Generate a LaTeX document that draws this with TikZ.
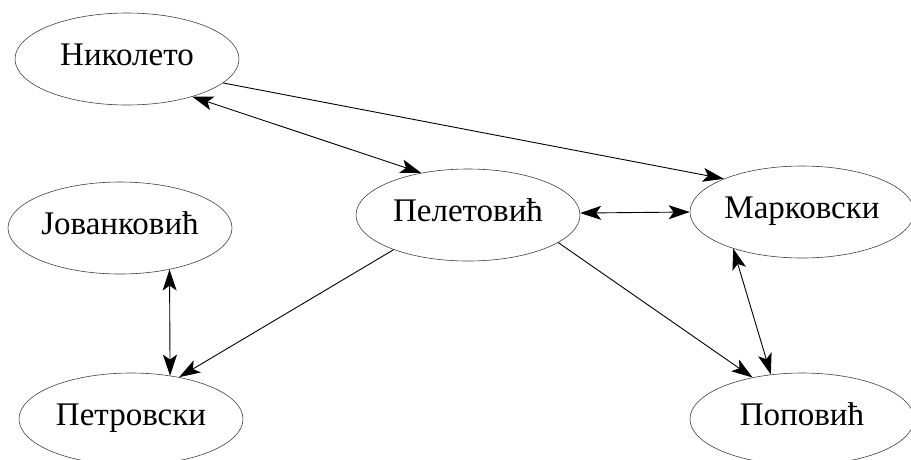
\documentclass[tikz,border=0pt]{standalone}
\usepackage{fontspec}
\setmainfont{Liberation Serif}
\usetikzlibrary{arrows.meta,shapes.geometric}

\begin{document}
\begin{tikzpicture}[x=1pt,y=-1pt,
  person/.style={ellipse,draw=black!75,line width=0.6pt,inner sep=0pt,
    minimum width=224pt,minimum height=92pt,
    font=\fontsize{33}{39}\selectfont,text height=18pt,text depth=6pt},
  link/.style={line width=0.9pt,-{Stealth[length=21pt,width=14pt,inset=5pt]}},
  both/.style={link,{Stealth[length=21pt,width=14pt,inset=5pt]}-{Stealth[length=21pt,width=14pt,inset=5pt]}}]

\useasboundingbox (0,0) rectangle (911,459);

\node[person] (nik) at (127,59) {Николето};
\node[person] (jov) at (120,228) {Јованковић};
\node[person] (pel) at (468,215) {Пелетовић};
\node[person] (mar) at (802,212) {Марковски};
\node[person] (pet) at (131,419) {Петровски};
\node[person] (pop) at (802,419) {Поповић};

\path[link] (nik.-14) edge (mar.157) (pel.205) edge (pet.41) (pel.-17) edge (pop.140);
\path[both] (nik.-30) edge (pel.138) (pel.1) edge (mar.180)
  (jov.-40) edge (pet.48) (mar.208) edge (pop.125);

\end{tikzpicture}
\end{document}
